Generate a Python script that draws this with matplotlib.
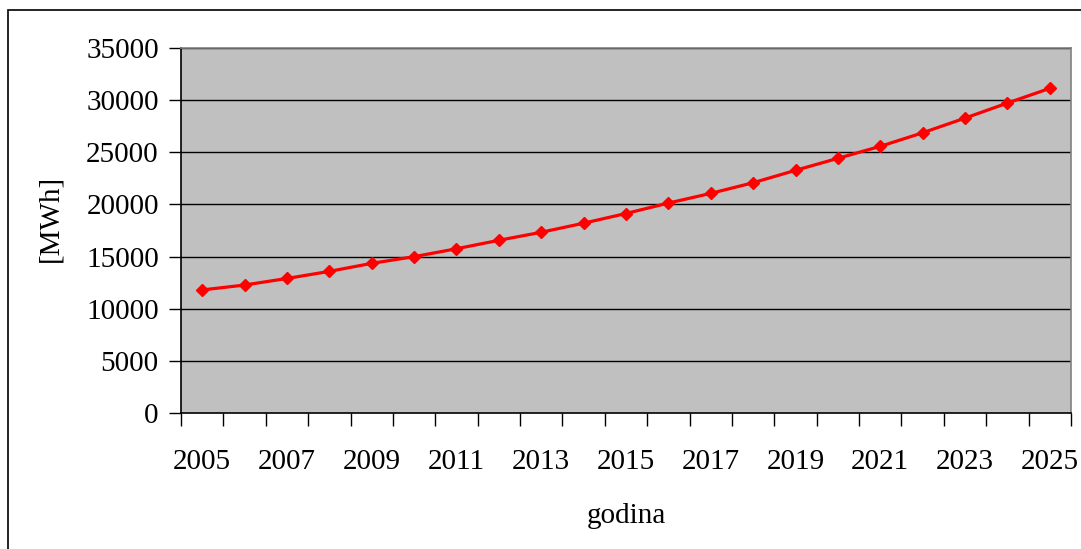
import matplotlib
matplotlib.use("Agg")
import matplotlib.pyplot as plt
from matplotlib.patches import Rectangle

# Podaci
godine = list(range(2005, 2026))
potrosnja = [11800, 12270, 12900, 13580, 14350, 14990, 15750, 16560, 17330, 18200,
             19130, 20130, 21060, 22080, 23270, 24420, 25570, 26870, 28280, 29720, 31130]
y_ticks = [0, 5000, 10000, 15000, 20000, 25000, 30000, 35000]
x_labels = [str(g) if (g - 2005) % 2 == 0 else "" for g in godine]

plt.rcParams["font.family"] = ["Liberation Serif", "DejaVu Serif"]

W, H = 1081, 549
fig = plt.figure(figsize=(W / 100, H / 100), dpi=100)
fig.patch.set_facecolor("white")

# vanjski okvir (desni i donji rub izvan slike)
fig.patches.append(Rectangle((8 / W, -0.2), 1.2, 1.2 - 10 / H, transform=fig.transFigure,
                             fill=False, edgecolor="black", linewidth=1.2))

ax = fig.add_axes([181 / W, 1 - 413 / H, (1071 - 181) / W, (413 - 48) / H])
ax.set_facecolor("#C0C0C0")

n = len(godine)
x = [i + 0.5 for i in range(n)]
ax.plot(x, potrosnja, color="#FF0000", linewidth=2.3, marker="D", markersize=6,
        markeredgecolor="#FF0000", zorder=3)

ax.set_xlim(0, n)
ax.set_ylim(0, 35000)
ax.set_yticks(y_ticks)
ax.set_yticklabels([str(v) for v in y_ticks])
for v in y_ticks[1:]:
    ax.axhline(v, color="black", linewidth=1, zorder=1)

# kategorijska os: crtice na granicama, oznake u sredini
ax.set_xticks(range(n + 1))
ax.set_xticklabels([])
ax.set_xticks(x, minor=True)
ax.set_xticklabels(x_labels, minor=True)
ax.tick_params(axis="x", which="minor", length=0, labelsize=21, pad=26)
ax.tick_params(axis="x", which="major", length=9, width=1, direction="out")
ax.tick_params(axis="y", length=9, width=1, direction="out", labelsize=21, pad=7)

for s in ["top", "right"]:
    ax.spines[s].set_color("#808080")
    ax.spines[s].set_linewidth(1.2)
for s in ["left", "bottom"]:
    ax.spines[s].set_color("black")
    ax.spines[s].set_linewidth(1.2)

fig.text(626 / W, 1 - 516 / H, "godina", fontsize=21, ha="center", va="center")
fig.text(50 / W, 1 - 218 / H, "[MWh]", fontsize=21, ha="center", va="center",
         rotation=90)

fig.savefig("out.png", dpi=100)
